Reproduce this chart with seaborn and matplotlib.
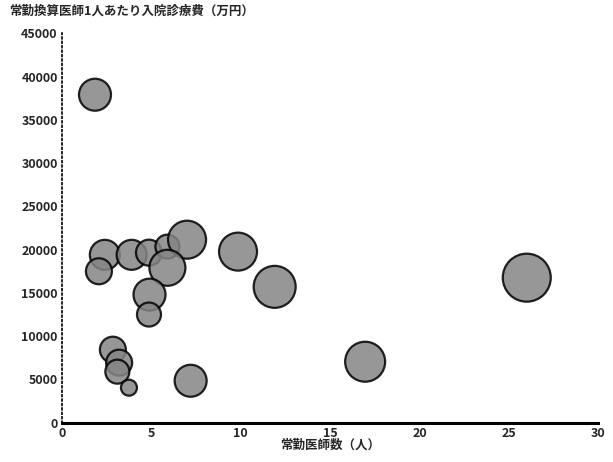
import numpy as np
import pandas as pd
import matplotlib.pyplot as plt
import seaborn as sns

sns.set_style("white")
plt.rcParams["font.family"] = ["Noto Sans CJK JP", "DejaVu Sans"]

# Data
doctors = [1.85, 2.4, 2.07, 3.9, 4.87, 5.9, 7.0, 5.9, 4.9, 4.87,
           9.85, 11.9, 2.85, 3.2, 3.1, 3.75, 7.2, 26.0, 16.96]
cost_per_doctor = [37900, 19400, 17500, 19400, 19650, 20350, 21150, 17900, 14800, 12500,
                   19770, 15700, 8440, 6940, 5900, 4050, 4850, 16760, 7050]
bubble = [256, 225, 169, 225, 169, 144, 361, 324, 256, 144,
          361, 441, 169, 169, 144, 64, 256, 576, 400]

df = pd.DataFrame({"doctors": doctors, "cost": cost_per_doctor, "bubble": bubble})

fig = plt.figure(figsize=(6.13, 4.62), dpi=100)
ax = fig.add_axes([0.101, 0.085, 0.875, 0.843])

# area ~ (diameter in points)^2, 1 px = 0.72 pt
px2pt = 0.72
sns.scatterplot(
    data=df, x="doctors", y="cost", size="bubble",
    sizes=((2 * 8 * px2pt) ** 2, (2 * 24 * px2pt) ** 2),
    size_norm=(64, 576),
    color="#858585", edgecolor="black", linewidth=1.6, alpha=0.85,
    legend=False, ax=ax,
)

ax.set_xlim(0, 30)
ax.set_ylim(0, 45000)
ax.set_xticks(range(0, 31, 5))
ax.set_xticks(range(0, 31), minor=True)
ax.set_yticks(range(0, 45001, 5000))

for s in ["top", "right"]:
    ax.spines[s].set_visible(False)
ax.spines["left"].set_linestyle(":")
ax.spines["left"].set_color("black")
ax.spines["left"].set_linewidth(1.2)
ax.spines["bottom"].set_color("black")
ax.spines["bottom"].set_linewidth(2.2)

ax.tick_params(axis="y", direction="in", length=5, width=0.8, labelsize=9, pad=3)
ax.tick_params(axis="x", which="major", direction="in", length=5, width=0.8, labelsize=9, pad=3)
ax.tick_params(axis="x", which="minor", direction="in", length=2, width=0.6)
for lbl in ax.get_xticklabels() + ax.get_yticklabels():
    lbl.set_fontweight("bold")

ax.set_xlabel("常勤医師数（人）", fontsize=9, fontweight="bold", labelpad=-1)
ax.set_ylabel("")
fig.text(0.015, 0.975, "常勤換算医師1人あたり入院診療費（万円）", fontsize=9,
         fontweight="bold", ha="left", va="center")

fig.savefig("out.png", dpi=100)
